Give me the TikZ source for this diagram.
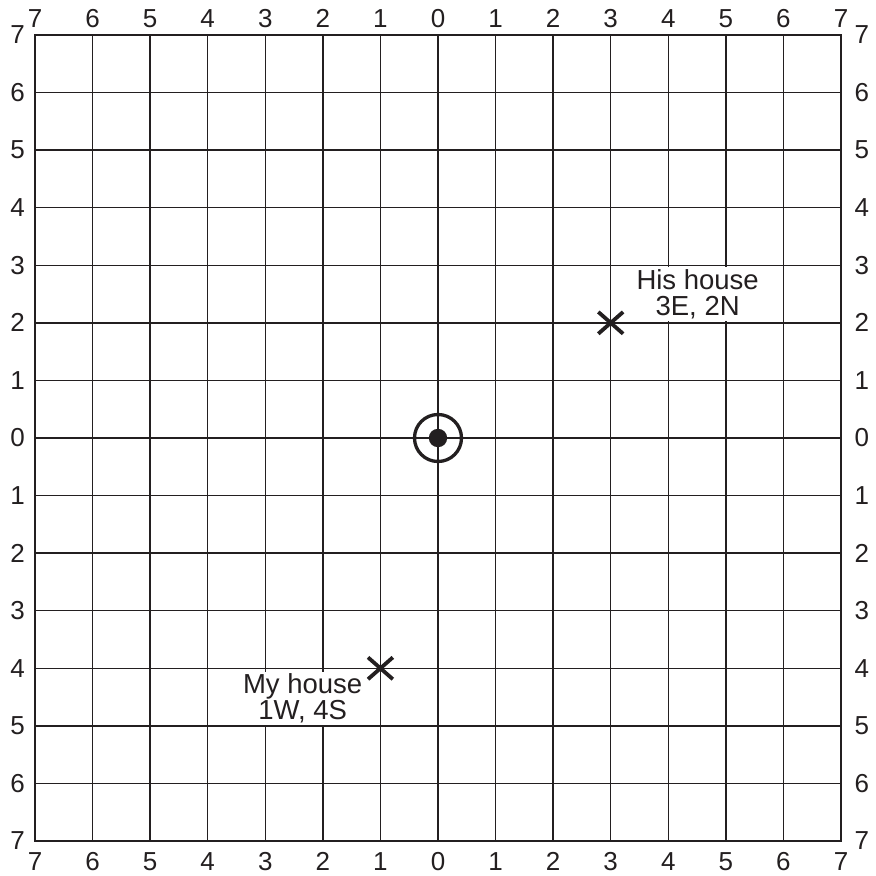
\documentclass[tikz,border=0pt]{standalone}
\usepackage{fontspec}
\setmainfont{Liberation Sans}
\usetikzlibrary{shapes.misc}
\definecolor{ink}{HTML}{231F20}
\begin{document}
\begin{tikzpicture}[x=57.57pt,y=57.57pt,
  gridline/.style={line width=1.3pt, draw=ink},
  lab/.style={inner sep=0pt, text=ink, font=\fontsize{26}{28}\selectfont},
  xmark/.style={cross out, draw=ink, line width=3.8pt, minimum width=21pt, minimum height=18pt, inner sep=0pt},
  place/.style={fill=white, inner xsep=2pt, inner ysep=2pt, align=center, text=ink},
]
\useasboundingbox (-7.608,-7.591) rectangle (7.608,7.608);
\fill[white] (-7.608,-7.591) rectangle (7.608,7.608);
\foreach \i in {-7,...,7} {
  \draw[gridline] (\i,-7) -- (\i,7);
  \draw[gridline] (-7,\i) -- (7,\i);
}
\draw[gridline] (-7,-7) rectangle (7,7);
\foreach \i in {-7,...,7} {
  \pgfmathtruncatemacro\a{abs(\i)}
  \node[lab] (top\i) at (\i,7.28) {\a};
  \node[lab] (bot\i) at (\i,-7.36) {\a};
  \node[lab] (lft\i) at (-7.30,\i) {\a};
  \node[lab] (rgt\i) at (7.36,\i) {\a};
}
\node[place, font=\fontsize{27.5}{26.5}\selectfont] (hislabel) at (4.51,2.50) {His house\\3E, 2N};
\node[place, font=\fontsize{27.5}{23}\selectfont] (mylabel) at (-2.35,-4.52) {My house\\1W, 4S};
\node[xmark] (his) at (3,2) {};
\node[xmark] (my) at (-1,-4) {};
\node[circle, draw=ink, line width=3.3pt, minimum size=47pt, inner sep=0pt] (ring) at (0,0) {};
\node[circle, fill=ink, minimum size=18.4pt, inner sep=0pt] (dot) at (0,0) {};
\end{tikzpicture}
\end{document}
